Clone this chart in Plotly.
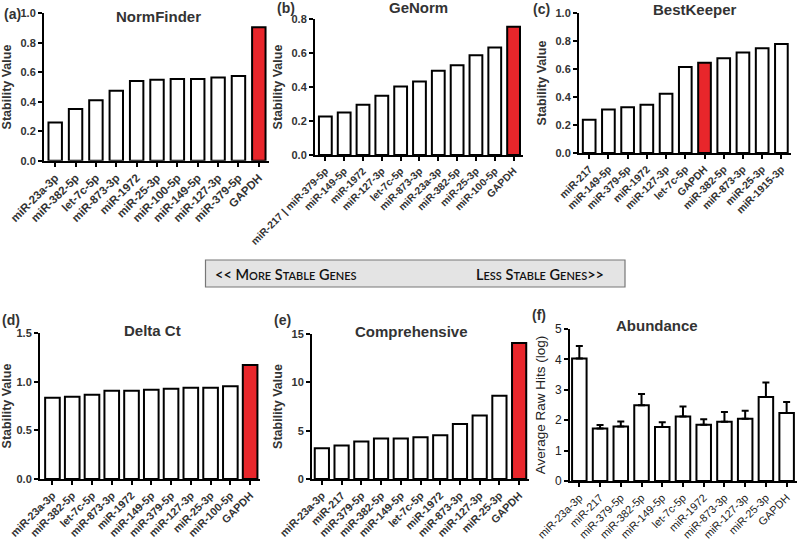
import plotly.graph_objects as go

W, H = 800, 543

# ---------------- data ----------------
nf_genes = ["miR-23a-3p", "miR-382-5p", "let-7c-5p", "miR-873-3p", "miR-1972", "miR-25-3p",
            "miR-100-5p", "miR-149-5p", "miR-127-3p", "miR-379-5p", "GAPDH"]
nf_values = [0.26, 0.35, 0.41, 0.475, 0.54, 0.55, 0.555, 0.555, 0.565, 0.575, 0.905]

gn_genes = ["miR-217 | miR-379-5p", "miR-149-5p", "miR-1972", "miR-127-3p", "let-7c-5p", "miR-873-3p",
            "miR-23a-3p", "miR-382-5p", "miR-25-3p", "miR-100-5p", "GAPDH"]
gn_values = [0.227, 0.25, 0.295, 0.348, 0.403, 0.432, 0.495, 0.528, 0.587, 0.632, 0.755]

bk_genes = ["miR-217", "miR-149-5p", "miR-379-5p", "miR-1972", "miR-127-3p", "let-7c-5p",
            "GAPDH", "miR-382-5p", "miR-873-3p", "miR-25-3p", "miR-1915-3p"]
bk_values = [0.238, 0.31, 0.326, 0.345, 0.424, 0.614, 0.645, 0.676, 0.717, 0.748, 0.779]

dc_genes = ["miR-23a-3p", "miR-382-5p", "let-7c-5p", "miR-873-3p", "miR-1972", "miR-149-5p",
            "miR-379-5p", "miR-127-3p", "miR-25-3p", "miR-100-5p", "GAPDH"]
dc_values = [0.834, 0.845, 0.865, 0.906, 0.906, 0.917, 0.927, 0.937, 0.937, 0.954, 1.17]

cp_genes = ["miR-23a-3p", "miR-217", "miR-379-5p", "miR-382-5p", "miR-149-5p", "let-7c-5p",
            "miR-1972", "miR-873-3p", "miR-127-3p", "miR-25-3p", "GAPDH"]
cp_values = [3.18, 3.46, 3.87, 4.18, 4.18, 4.32, 4.53, 5.70, 6.57, 8.61, 14.07]

ab_genes = ["miR-23a-3p", "miR-217", "miR-379-5p", "miR-382-5p", "miR-149-5p", "let-7c-5p",
            "miR-1972", "miR-873-3p", "miR-127-3p", "miR-25-3p", "GAPDH"]
ab_values = [4.03, 1.73, 1.79, 2.49, 1.78, 2.12, 1.85, 1.95, 2.05, 2.76, 2.24]
ab_errors = [0.41, 0.11, 0.17, 0.37, 0.15, 0.33, 0.18, 0.32, 0.26, 0.48, 0.36]

RED = "#E8262B"
FONT = "Liberation Sans, Arial, sans-serif"

# ---------------- panel geometry (pixels) ----------------
panels = [
    dict(g=nf_genes, v=nf_values, e=None, x0=44, x1=269, yt=13.3, yb=160.7, xr=[-0.55, 10.5], yr=[0, 1.0], dt=0.2, fmt=".1f",
         title="NormFinder", tcx=158, tcy=16, lab="(a)", lx=2, ly=14, yt_text="Stability Value", bold=True, bw=0.66, hl=True, ts=11.5),
    dict(g=gn_genes, v=gn_values, e=None, x0=315, x1=523, yt=19, yb=155, xr=[-0.55, 10.5], yr=[0, 0.8], dt=0.2, fmt=".1f",
         title="GeNorm", tcx=418, tcy=8, lab="(b)", lx=275, ly=8, yt_text="Stability Value", bold=True, bw=0.68, hl=True, ts=10.3),
    dict(g=bk_genes, v=bk_values, e=None, x0=579, x1=791, yt=13, yb=153, xr=[-0.53, 10.5], yr=[0, 1.0], dt=0.2, fmt=".1f",
         title="BestKeeper", tcx=695, tcy=10, lab="(c)", lx=531, ly=9, yt_text="Stability Value", bold=True, bw=0.66, hl=True, ts=10.5),
    dict(g=dc_genes, v=dc_values, e=None, x0=40, x1=260, yt=333, yb=479, xr=[-0.63, 10.5], yr=[0, 1.5], dt=0.5, fmt=".1f",
         title="Delta Ct", tcx=152, tcy=330, lab="(d)", lx=0, ly=320, yt_text="Stability Value", bold=True, bw=0.74, hl=True, ts=10.8),
    dict(g=cp_genes, v=cp_values, e=None, x0=312, x1=529, yt=334, yb=479, xr=[-0.5, 10.5], yr=[0, 15], dt=5, fmt="d",
         title="Comprehensive", tcx=411, tcy=331, lab="(e)", lx=272, ly=320, yt_text="Stability Value", bold=True, bw=0.72, hl=True, ts=10.8),
    dict(g=ab_genes, v=ab_values, e=ab_errors, x0=570, x1=797, yt=329, yb=481, xr=[-0.45, 10.5], yr=[0, 5], dt=1, fmt="d",
         title="Abundance", tcx=657, tcy=325, lab="(f)", lx=530, ly=315, yt_text="Average Raw Hits (log)", bold=False, bw=0.70, hl=False, ts=11),
]

fig = go.Figure()
annotations = []

for i, p in enumerate(panels, start=1):
    xa = "x" if i == 1 else f"x{i}"
    ya = "y" if i == 1 else f"y{i}"
    colors = [RED if (g == "GAPDH" and p["hl"]) else "white" for g in p["g"]]
    bar = dict(
        x=p["g"], y=p["v"], xaxis=xa, yaxis=ya, width=p["bw"],
        marker=dict(color=colors, line=dict(color="black", width=2)),
        showlegend=False, hoverinfo="x+y",
    )
    if p["e"] is not None:
        bar["error_y"] = dict(type="data", array=p["e"], arrayminus=[0] * len(p["e"]),
                              symmetric=False, color="black", thickness=2, width=3.5)
    fig.add_trace(go.Bar(**bar))

    wt = "bold" if p["bold"] else "normal"
    tcol = "#333" if p["bold"] else "#222"
    tickfont = dict(family=FONT, size=p["ts"], color=tcol, weight=wt)
    axis_common = dict(showline=True, linecolor="black", linewidth=2, ticks="outside",
                       tickcolor="black", ticklen=4, tickwidth=1.5, showgrid=False,
                       zeroline=False, fixedrange=True, automargin=False)
    fig.layout[f"xaxis{'' if i == 1 else i}"] = dict(
        domain=[p["x0"] / W, p["x1"] / W], anchor=ya, type="category",
        range=p["xr"], tickangle=-45, tickfont=tickfont, **axis_common)
    fig.layout[f"yaxis{'' if i == 1 else i}"] = dict(
        domain=[1 - p["yb"] / H, 1 - p["yt"] / H], anchor=xa, range=p["yr"],
        dtick=p["dt"], tick0=0, tickformat=p["fmt"],
        tickfont=dict(family=FONT, size=11 if p["bold"] else 12, color=tcol, weight=wt),
        title=dict(text=p["yt_text"], font=dict(family=FONT, size=12.5 if p["bold"] else 13.5, color=tcol, weight=wt),
                   standoff=6),
        **axis_common)

    annotations.append(dict(text=p["title"], x=p["tcx"] / W, y=1 - p["tcy"] / H, xref="paper", yref="paper",
                            xanchor="center", yanchor="middle", showarrow=False,
                            font=dict(family=FONT, size=15, color="#333", weight="bold")))
    annotations.append(dict(text=p["lab"], x=p["lx"] / W, y=1 - p["ly"] / H, xref="paper", yref="paper",
                            xanchor="left", yanchor="middle", showarrow=False,
                            font=dict(family=FONT, size=14, color="#333", weight="bold")))

# central banner
sc = "font-size:11px"
left_txt = f"&lt;&lt; M<span style='{sc}'>ORE</span> S<span style='{sc}'>TABLE</span> G<span style='{sc}'>ENES</span>"
right_txt = f"L<span style='{sc}'>ESS</span> S<span style='{sc}'>TABLE</span> G<span style='{sc}'>ENES</span>&gt;&gt;"
annotations.append(dict(text=left_txt, x=213 / W, y=1 - 274 / H, xref="paper", yref="paper",
                        xanchor="left", yanchor="middle", showarrow=False,
                        font=dict(family="Lato, Open Sans, sans-serif", size=14.5, color="#111", weight=600)))
annotations.append(dict(text=right_txt, x=606 / W, y=1 - 274 / H, xref="paper", yref="paper",
                        xanchor="right", yanchor="middle", showarrow=False,
                        font=dict(family="Lato, Open Sans, sans-serif", size=14.5, color="#111", weight=600)))

fig.update_layout(
    width=W, height=H, margin=dict(l=0, r=0, t=0, b=0),
    paper_bgcolor="white", plot_bgcolor="white",
    annotations=annotations,
    shapes=[dict(type="rect", xref="paper", yref="paper",
                 x0=205.5 / W, x1=625 / W, y0=1 - 287 / H, y1=1 - 260 / H,
                 fillcolor="#e4e4e4", line=dict(color="#777", width=1.2), layer="below")],
    bargap=0.3,
)

fig.write_html("out.html", config={"displayModeBar": False},
               post_script="document.body.style.margin='0px';document.body.style.overflow='hidden';")
